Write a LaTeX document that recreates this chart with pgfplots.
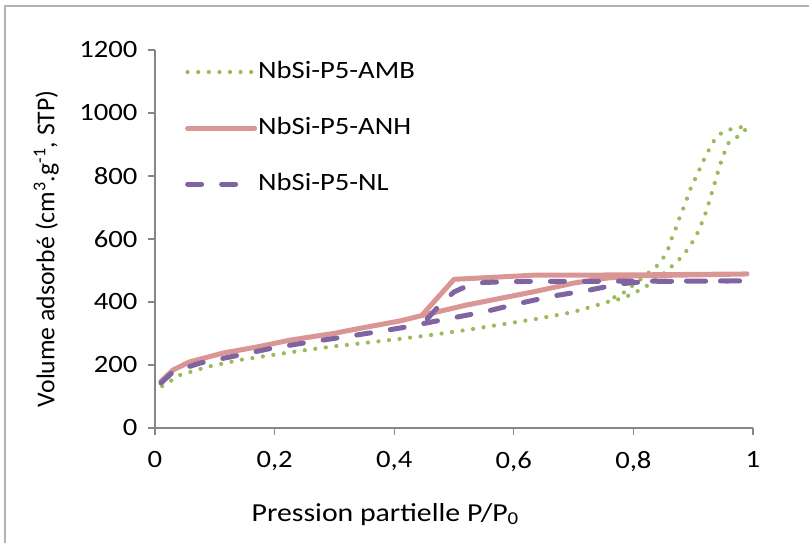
\documentclass[border=0pt]{standalone}
\usepackage{pgfplots}
\pgfplotsset{compat=1.18}
\usepackage{fontspec}
\setmainfont{Carlito}[FakeStretch=1.15]
\newfontfamily\plainfont{Carlito}
\definecolor{cgreen}{HTML}{9BBB59}
\definecolor{cpink}{HTML}{D99694}
\definecolor{cpurple}{HTML}{8064A2}
\definecolor{axgray}{HTML}{868686}
\begin{document}
\fontsize{25}{29}\selectfont
\begin{tikzpicture}
\useasboundingbox (0bp,0bp) rectangle (809bp,543bp);
\draw[color=gray!60, line width=1.5bp] (5bp,0bp) -- (5bp,537bp) -- (809bp,537bp);
\begin{axis}[
  at={(155bp,115bp)}, anchor=south west, scale only axis,
  width=598bp, height=378bp,
  xmin=0, xmax=1, ymin=0, ymax=1200,
  axis lines=left, axis line style={-, draw=axgray, line width=1.1bp},
  tick style={draw=axgray, line width=1.1bp}, tick align=outside, major tick length=7bp,
  xtick={0,0.2,0.4,0.6,0.8,1}, ytick={0,200,400,600,800,1000,1200},
  /pgf/number format/use comma, /pgf/number format/1000 sep={},
  /pgf/number format/assume math mode=true,
  xticklabel style={/pgf/number format/fixed, yshift=-8bp},
  yticklabel style={xshift=-2bp},
  xlabel={\fontsize{26}{30}\selectfont Pression partielle P/P\textsubscript{0}},
  ylabel={\plainfont\fontsize{25.8}{30}\selectfont Volume adsorbé (cm\textsuperscript{3}.g\textsuperscript{-1}, STP)},
  xlabel style={at={(axis description cs:0.385,-0.228)}, anchor=center},
  ylabel style={at={(axis description cs:-0.182,0.474)}, anchor=center, rotate=0},
  legend style={draw=none, fill=none, at={(axis description cs:0.045,0.978)}, anchor=north west,
    row sep=33bp, nodes={inner sep=1bp}},
  legend cell align=left,
  legend image code/.code={\draw[#1] (0bp,0bp) -- (67bp,0bp);},
]
\addplot[cgreen, line width=4.2bp, line cap=round, dash pattern=on 0bp off 10.6bp] coordinates {
(0.012,133) (0.042,168) (0.087,194) (0.142,216) (0.197,232) (0.254,248) (0.298,259) (0.35,270)
(0.41,283) (0.465,296) (0.52,311) (0.577,328) (0.64,347) (0.699,368) (0.739,390) (0.756,400)
(0.783,412) (0.80,428) (0.814,441) (0.828,458) (0.841,479) (0.856,497) (0.868,521) (0.881,543)
(0.891,568) (0.9,594) (0.908,622) (0.915,654) (0.921,683) (0.926,714) (0.931,746) (0.936,778)
(0.941,810) (0.946,841) (0.952,873) (0.958,903) (0.972,922) (0.985,940) (0.99,958)
(0.97,952) (0.953,943) (0.94,927) (0.93,898) (0.923,870) (0.915,841) (0.908,810) (0.9,778)
(0.893,749) (0.888,718) (0.881,686) (0.875,657) (0.87,629) (0.863,597) (0.858,568) (0.85,540)
(0.839,514) (0.826,494) (0.811,470) (0.798,451) (0.786,432) (0.769,416) (0.756,402)
};
\addlegendentry{NbSi-P5-AMB}
\addplot[cpink, line width=5bp, line cap=round, line join=round] coordinates {
(0.01,148) (0.03,184) (0.058,210) (0.114,238) (0.17,257) (0.226,279) (0.298,300) (0.35,319)
(0.41,340) (0.446,357) (0.52,390) (0.632,432) (0.70,460) (0.756,476) (0.80,483) (0.9,486) (0.99,489)
(0.8,486) (0.632,485) (0.5,472) (0.446,357)
};
\addlegendentry{NbSi-P5-ANH}
\addplot[cpurple, line width=5bp, line cap=round, dash pattern=on 14bp off 20bp] coordinates {
(0.01,143) (0.03,178) (0.075,206) (0.142,232) (0.197,254) (0.259,273) (0.33,293) (0.38,308)
(0.421,321) (0.45,332) (0.488,346) (0.549,368) (0.61,396) (0.666,419) (0.727,438) (0.78,458)
(0.82,465) (0.9,466) (0.99,467)
(0.8,466) (0.6,465) (0.55,462) (0.52,449) (0.50,432) (0.48,398) (0.45,336)
};
\addlegendentry{NbSi-P5-NL}
\end{axis}
\end{tikzpicture}
\end{document}
